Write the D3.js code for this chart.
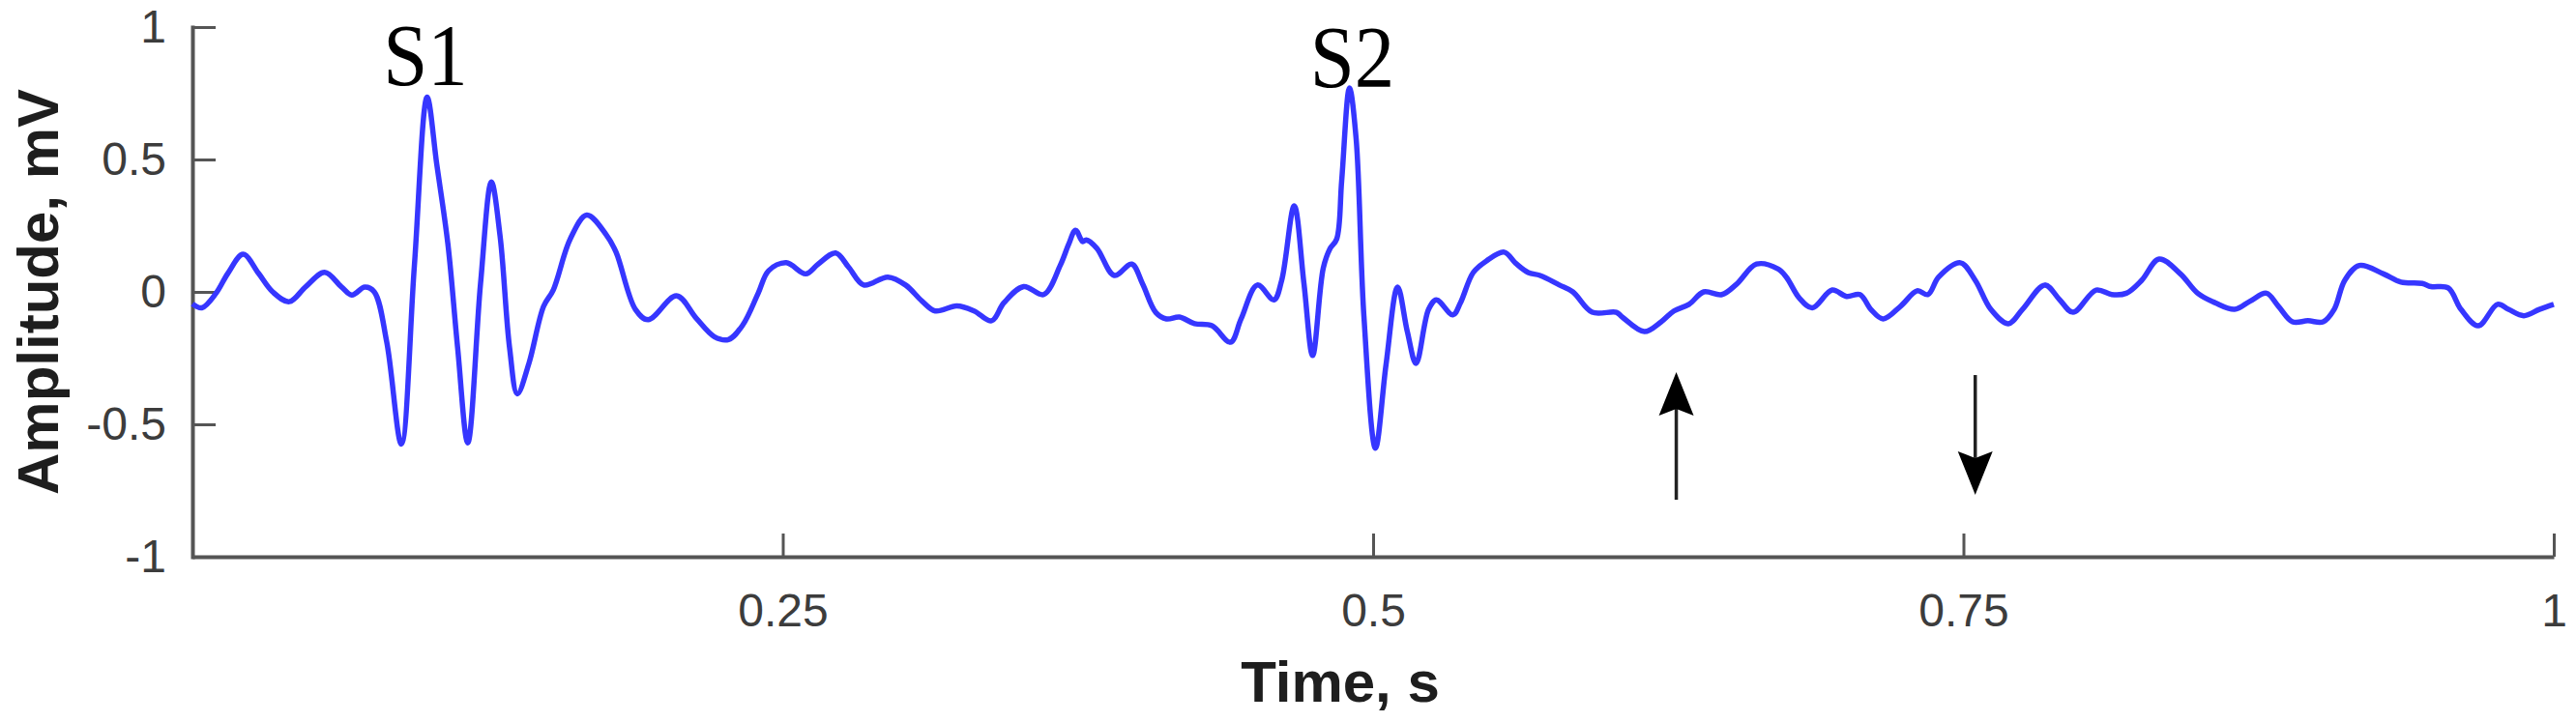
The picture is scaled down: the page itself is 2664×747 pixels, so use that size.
<!DOCTYPE html>
<html>
<head>
<meta charset="utf-8">
<script src="https://cdn.jsdelivr.net/npm/d3@7"></script>
<style>
  html, body { margin: 0; padding: 0; background: #fff; }
  svg { display: block; }
</style>
</head>
<body>
<svg id="chart" width="2664" height="747"></svg>
<script>
// ---- data ----
const time = [
  0.000, 0.004, 0.010, 0.015, 0.0215, 0.028, 0.034, 0.041, 0.048, 0.056,
  0.063, 0.0675, 0.073, 0.077, 0.0823, 0.0885, 0.094, 0.0994, 0.1035,
  0.1082, 0.1123, 0.1166, 0.122, 0.1266, 0.1303, 0.1343, 0.1376, 0.1425, 0.1487,
  0.1528, 0.160, 0.167, 0.1753, 0.1794, 0.1876, 0.193, 0.205, 0.2134, 0.221,
  0.227, 0.233, 0.2396, 0.244, 0.2515, 0.2597, 0.265, 0.2724, 0.278, 0.2843,
  0.2945, 0.302, 0.309, 0.3146, 0.3237, 0.331, 0.3384, 0.3437, 0.352, 0.3605,
  0.3675, 0.371, 0.374, 0.377, 0.3785, 0.383, 0.3904, 0.3978, 0.4023, 0.408,
  0.4125, 0.418, 0.4244, 0.4318, 0.4396, 0.4441, 0.451, 0.458, 0.4613, 0.4666,
  0.4707, 0.4744, 0.4789, 0.4818, 0.4846, 0.4867, 0.490, 0.4928, 0.4961, 0.501,
  0.5055, 0.5104, 0.5145, 0.5182, 0.5235, 0.5268, 0.5338, 0.537, 0.5424, 0.548,
  0.5555, 0.5604, 0.5657, 0.5707, 0.5789, 0.5846, 0.5928, 0.603, 0.6055, 0.6149,
  0.622, 0.6274, 0.6338, 0.640, 0.6477, 0.654, 0.6624, 0.6714, 0.675, 0.6805,
  0.686, 0.6944, 0.7005, 0.7062, 0.7108, 0.716, 0.7235, 0.7304, 0.735, 0.7395,
  0.7487, 0.755, 0.7616, 0.769, 0.775, 0.7845, 0.7907, 0.7964, 0.8062, 0.8128,
  0.819, 0.8255, 0.8329, 0.8419, 0.8492, 0.8566, 0.8648, 0.8714, 0.8783, 0.8833,
  0.8894, 0.8959, 0.9023, 0.907, 0.9115, 0.9177, 0.9279, 0.9353, 0.9443, 0.948,
  0.9553, 0.9607, 0.968, 0.9762, 0.9808, 0.9873, 0.9939, 1.000
];
const amplitude = [
  -0.045, -0.060, -0.005, 0.070, 0.142, 0.070, 0.000, -0.037, 0.020, 0.074,
  0.020, -0.012, 0.018, 0.000, -0.190, -0.575, 0.100, 0.735, 0.480,
  0.180, -0.210, -0.570, 0.030, 0.415, 0.210, -0.210, -0.385, -0.270, -0.055,
  0.007, 0.200, 0.290, 0.215, 0.150, -0.066, -0.105, -0.015, -0.100, -0.169,
  -0.180, -0.126, -0.005, 0.080, 0.110, 0.068, 0.105, 0.147, 0.092, 0.026,
  0.056, 0.026, -0.035, -0.072, -0.053, -0.072, -0.109, -0.041, 0.020, -0.010,
  0.100, 0.178, 0.233, 0.190, 0.196, 0.165, 0.062, 0.105, 0.032, -0.078,
  -0.102, -0.095, -0.120, -0.128, -0.190, -0.102, 0.026, -0.030, 0.044, 0.325,
  0.033, -0.240, 0.090, 0.164, 0.200, 0.420, 0.770, 0.580, -0.090, -0.590,
  -0.273, 0.018, -0.150, -0.270, -0.066, -0.030, -0.087, -0.041, 0.073, 0.117,
  0.150, 0.108, 0.073, 0.062, 0.026, 0.000, -0.077, -0.077, -0.095, -0.150,
  -0.113, -0.072, -0.047, 0.000, -0.010, 0.030, 0.105, 0.087, 0.056, -0.023,
  -0.060, 0.007, -0.017, -0.010, -0.066, -0.102, -0.053, 0.004, -0.010, 0.056,
  0.110, 0.044, -0.066, -0.120, -0.066, 0.026, -0.029, -0.077, 0.007, -0.010,
  -0.005, 0.044, 0.124, 0.068, -0.005, -0.041, -0.066, -0.035, -0.005, -0.053,
  -0.113, -0.109, -0.113, -0.066, 0.044, 0.100, 0.068, 0.037, 0.032, 0.020,
  0.015, -0.066, -0.128, -0.047, -0.066, -0.090, -0.066, -0.047
];
const xTickValues = [0.25, 0.5, 0.75, 1];
const xTickLabels = ["0.25", "0.5", "0.75", "1"];
const yTickValues = [-1, -0.5, 0, 0.5, 1];
const yTickLabels = ["-1", "-0.5", "0", "0.5", "1"];
const xTitle = "Time, s";
const yTitle = "Amplitude, mV";
const peakLabels = ["S1", "S2"];
const peakLabelTime = [0.0987, 0.4912];
const peakLabelAmp = [0.781, 0.774];
const arrowTime = [0.6284, 0.755];
const arrowFrom = [-0.785, -0.314];
const arrowTo = [-0.303, -0.766];

// ---- layout ----
const svg = d3.select("#chart");
svg.append("rect").attr("width", 2664).attr("height", 747).attr("fill", "#fff");

const x = d3.scaleLinear().domain([0, 1]).range([199, 2641]);
const y = d3.scaleLinear().domain([-1, 1]).range([576, 28]);

const axisColor = "#555";
const labelColor = "#3c3c3c";

// y axis
const yAxis = d3.axisLeft(y)
  .tickValues(yTickValues)
  .tickFormat((d, i) => yTickLabels[i])
  .tickSizeInner(-24)
  .tickSizeOuter(0)
  .tickPadding(27);
const gy = svg.append("g").attr("transform", `translate(${x(0)},0)`).call(yAxis);

// x axis
const xAxis = d3.axisBottom(x)
  .tickValues(xTickValues)
  .tickFormat((d, i) => xTickLabels[i])
  .tickSizeInner(-24)
  .tickSizeOuter(0)
  .tickPadding(38);
const gx = svg.append("g").attr("transform", `translate(0,${y(-1)})`).call(xAxis);

[gx, gy].forEach(g => {
  g.select(".domain").attr("stroke", axisColor).attr("stroke-width", 4);
  g.selectAll(".tick line").attr("stroke", axisColor).attr("stroke-width", 3);
  g.selectAll(".tick text")
    .attr("fill", labelColor)
    .style("font-family", "'Liberation Sans', Arial, sans-serif")
    .style("font-size", "48px");
});
gy.select(".domain").attr("stroke-linecap", "square");

// signal
const line = d3.line()
  .x((d, i) => x(time[i]))
  .y((d, i) => y(amplitude[i]))
  .curve(d3.curveCatmullRom.alpha(0.5));
svg.append("path")
  .attr("d", line(time))
  .attr("fill", "none")
  .attr("stroke", "#3636ff")
  .attr("stroke-width", 5.5)
  .attr("stroke-linejoin", "round");

// axis titles
svg.append("text")
  .attr("x", 1386).attr("y", 726)
  .attr("text-anchor", "middle")
  .attr("fill", "#1e1e1e")
  .style("font-family", "'Liberation Sans', Arial, sans-serif")
  .style("font-weight", "bold")
  .style("font-size", "60px")
  .text(xTitle);

svg.append("text")
  .attr("transform", `translate(60,${y(0)}) rotate(-90)`)
  .attr("text-anchor", "middle")
  .attr("fill", "#1e1e1e")
  .style("font-family", "'Liberation Sans', Arial, sans-serif")
  .style("font-weight", "bold")
  .style("font-size", "60px")
  .text(yTitle);

// peak labels
svg.selectAll("text.peak")
  .data(peakLabels)
  .join("text")
  .attr("class", "peak")
  .attr("transform", (d, i) => `translate(${x(peakLabelTime[i])},${y(peakLabelAmp[i])}) scale(0.9,1)`)
  .attr("text-anchor", "middle")
  .attr("fill", "#000")
  .style("font-family", "'Liberation Serif', 'Times New Roman', serif")
  .style("font-size", "92px")
  .text(d => d);

// arrows
const headLen = 45, headHalf = 18, notch = 7;
arrowTime.forEach((t, i) => {
  const ax = x(t), y0 = y(arrowFrom[i]), y1 = y(arrowTo[i]);
  const dir = y1 < y0 ? -1 : 1; // -1 means pointing up
  const notchY = y1 - dir * (headLen - notch);
  const wingY = y1 - dir * headLen;
  svg.append("line")
    .attr("x1", ax).attr("y1", y0)
    .attr("x2", ax).attr("y2", notchY)
    .attr("stroke", "#222").attr("stroke-width", 3.5);
  svg.append("path")
    .attr("d", `M${ax},${y1} L${ax - headHalf},${wingY} L${ax},${notchY} L${ax + headHalf},${wingY} Z`)
    .attr("fill", "#000");
});
</script>
</body>
</html>
